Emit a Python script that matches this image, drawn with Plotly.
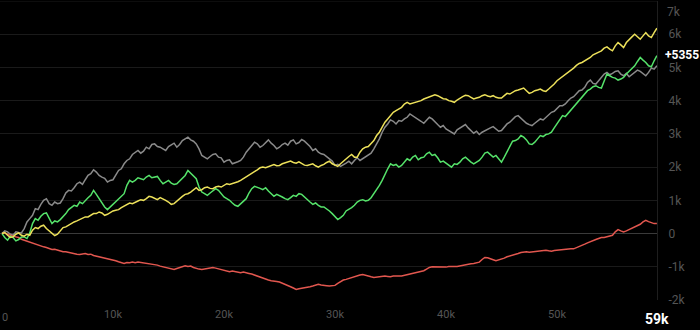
import plotly.graph_objects as go

# x positions in thousands (0 .. 59k, step 0.25k)
x_k = [i * 0.25 for i in range(237)]

gray_k = [0, 0.08, 0.05, -0.02, -0.05, 0.05, 0.03, 0.02, 0.15, 0.35,
          0.45, 0.55, 0.75, 0.72, 0.88, 1.0, 1.05, 0.9, 0.85, 0.95,
          0.9, 0.92, 1.05, 1.22, 1.3, 1.28, 1.38, 1.5, 1.55, 1.48,
          1.62, 1.75, 1.8, 1.92, 1.85, 1.75, 1.7, 1.66, 1.55, 1.6,
          1.62, 1.78, 1.9, 1.95, 2.1, 2.2, 2.25, 2.38, 2.45, 2.5,
          2.42, 2.48, 2.6, 2.55, 2.68, 2.7, 2.62, 2.6, 2.55, 2.5,
          2.62, 2.66, 2.72, 2.6, 2.68, 2.8, 2.85, 2.9, 2.82, 2.78,
          2.7, 2.55, 2.35, 2.3, 2.25, 2.32, 2.38, 2.4, 2.3, 2.28,
          2.15, 2.2, 2.22, 2.1, 2.12, 2.16, 2.2, 2.3, 2.45, 2.55,
          2.62, 2.75, 2.7, 2.6, 2.65, 2.75, 2.82, 2.72, 2.65, 2.55,
          2.6, 2.68, 2.72, 2.66, 2.78, 2.82, 2.7, 2.74, 2.83, 2.78,
          2.7, 2.62, 2.5, 2.55, 2.45, 2.4, 2.38, 2.32, 2.25, 2.18,
          2.05, 2.08, 2.02, 2.06, 2.12, 2.18, 2.1, 2.2, 2.28, 2.2,
          2.25, 2.3, 2.35, 2.42, 2.55, 2.7, 2.85, 3.05, 3.2, 3.3,
          3.42, 3.38, 3.3, 3.4, 3.38, 3.45, 3.5, 3.6, 3.55, 3.5,
          3.45, 3.38, 3.32, 3.4, 3.5, 3.45, 3.35, 3.28, 3.2, 3.25,
          3.15, 3.1, 3.05, 3.0, 3.12, 3.18, 3.22, 3.28, 3.18, 3.1,
          3.02, 3.08, 2.98, 3.05, 3.1, 3.15, 3.18, 3.22, 3.15, 3.08,
          3.1, 3.2, 3.3, 3.35, 3.45, 3.52, 3.55, 3.48, 3.4, 3.32,
          3.28, 3.25, 3.32, 3.4, 3.45, 3.42, 3.5, 3.58, 3.65, 3.68,
          3.78, 3.85, 3.85, 3.9, 4.0, 4.08, 4.12, 4.2, 4.3, 4.32,
          4.4, 4.55, 4.62, 4.52, 4.5, 4.6, 4.7, 4.8, 4.85, 4.78,
          4.82, 4.88, 4.9, 4.8, 4.75, 4.82, 4.72, 4.78, 4.85, 4.92,
          4.88, 4.8, 4.75, 4.85, 4.98, 4.95, 5.05]

green_k = [0, -0.12, -0.2, -0.08, -0.12, -0.22, -0.18, -0.1, -0.1, -0.15,
           0.02, 0.3, 0.45, 0.4, 0.52, 0.6, 0.62, 0.45, 0.3, 0.38,
           0.35, 0.42, 0.5, 0.6, 0.72, 0.78, 0.85, 0.82, 0.95, 0.9,
           1.0, 1.08, 1.15, 1.3, 1.18, 1.05, 0.92, 0.8, 0.72, 0.8,
           0.85, 0.95, 1.02, 1.12, 1.2, 1.45, 1.6, 1.55, 1.6, 1.68,
           1.65, 1.62, 1.7, 1.75, 1.68, 1.7, 1.72, 1.6, 1.5, 1.55,
           1.6, 1.52, 1.48, 1.5, 1.58, 1.66, 1.75, 1.9, 1.82, 1.75,
           1.65, 1.4, 1.25, 1.2, 1.15, 1.22, 1.28, 1.35, 1.3, 1.2,
           1.1, 1.05, 1.0, 0.92, 0.85, 0.82, 0.9, 0.98, 1.05, 1.22,
           1.35, 1.42, 1.4, 1.36, 1.32, 1.38, 1.28, 1.2, 1.12, 1.18,
           1.15, 1.1, 1.05, 1.02, 1.08, 1.15, 1.12, 1.2, 1.18, 1.1,
           1.0, 0.95, 0.88, 0.92, 0.85, 0.8, 0.8, 0.75, 0.68, 0.6,
           0.5, 0.42, 0.48, 0.55, 0.68, 0.72, 0.78, 0.85, 0.95, 1.0,
           1.02, 0.98, 1.0, 1.08, 1.2, 1.3, 1.45, 1.6, 1.8, 1.95,
           2.1, 2.05, 2.08, 2.0, 2.05, 2.15, 2.25, 2.2, 2.3, 2.35,
           2.22, 2.28, 2.3, 2.4, 2.45, 2.35, 2.38, 2.28, 2.15, 2.18,
           2.12, 2.05, 2.0, 2.1, 2.08, 2.15, 2.25, 2.3, 2.22, 2.15,
           2.1, 2.15, 2.2, 2.3, 2.42, 2.45, 2.38, 2.3, 2.35, 2.25,
           2.15, 2.3, 2.45, 2.62, 2.78, 2.8, 2.85, 2.95, 2.9, 2.82,
           2.7, 2.68, 2.75, 2.85, 2.95, 2.92, 2.98, 3.0, 3.05, 3.18,
           3.3, 3.45, 3.55, 3.52, 3.62, 3.7, 3.8, 3.92, 4.0, 4.1,
           4.22, 4.3, 4.35, 4.42, 4.45, 4.4, 4.38, 4.6, 4.8, 4.75,
           4.7, 4.68, 4.62, 4.65, 4.7, 4.8, 4.88, 4.95, 5.05, 5.18,
           5.3, 5.22, 5.15, 5.05, 5.02, 5.2, 5.355]

yellow_k = [0, 0.03, -0.05, -0.12, -0.1, -0.02, 0.02, -0.05, -0.08, -0.02,
            -0.05, 0.1, 0.18, 0.15, 0.22, 0.25, 0.15, 0.08, 0.02, -0.06,
            -0.02, 0.08, 0.18, 0.2, 0.25, 0.32, 0.35, 0.38, 0.42, 0.48,
            0.5, 0.5, 0.55, 0.6, 0.6, 0.65, 0.62, 0.55, 0.58, 0.64,
            0.68, 0.7, 0.72, 0.78, 0.82, 0.88, 0.92, 0.9, 0.95, 0.98,
            1.02, 1.0, 1.05, 1.12, 1.1, 1.05, 1.02, 1.08, 1.05, 1.0,
            0.95, 0.88, 0.9, 0.98, 1.05, 1.12, 1.18, 1.2, 1.25, 1.32,
            1.38, 1.3, 1.32, 1.38, 1.4, 1.36, 1.35, 1.4, 1.42, 1.4,
            1.45, 1.5, 1.48, 1.5, 1.52, 1.56, 1.6, 1.65, 1.7, 1.76,
            1.8, 1.86, 1.92, 1.98, 2.0, 1.98, 2.02, 2.06, 2.08, 2.04,
            2.05, 2.1, 2.12, 2.15, 2.18, 2.14, 2.12, 2.16, 2.1, 2.06,
            2.05, 2.08, 2.1, 2.04, 2.0, 2.05, 2.08, 2.14, 2.18, 2.1,
            2.05, 2.02, 2.1, 2.18, 2.25, 2.32, 2.38, 2.3, 2.3, 2.45,
            2.55, 2.6, 2.62, 2.7, 2.8, 2.95, 3.05, 3.2, 3.35, 3.45,
            3.55, 3.65, 3.7, 3.75, 3.8, 3.9, 3.95, 3.9, 3.92, 3.96,
            3.98, 4.0, 4.05, 4.08, 4.1, 4.14, 4.18, 4.15, 4.1, 4.06,
            4.05, 4.0, 3.98, 3.95, 4.02, 4.08, 4.12, 4.16, 4.15, 4.1,
            4.05, 4.08, 4.1, 4.15, 4.18, 4.14, 4.12, 4.15, 4.1, 4.08,
            4.08, 4.15, 4.22, 4.2, 4.25, 4.3, 4.32, 4.36, 4.38, 4.3,
            4.22, 4.25, 4.3, 4.32, 4.35, 4.3, 4.28, 4.35, 4.42, 4.5,
            4.6, 4.66, 4.72, 4.8, 4.85, 4.92, 4.98, 5.06, 5.12, 5.15,
            5.2, 5.25, 5.3, 5.38, 5.42, 5.45, 5.5, 5.58, 5.62, 5.55,
            5.5, 5.65, 5.75, 5.68, 5.6, 5.75, 5.85, 5.92, 6.0, 5.92,
            5.85, 5.95, 6.05, 5.95, 5.9, 6.05, 6.18]

red_k = [0, 0.02, -0.02, -0.06, -0.08, -0.1, -0.12, -0.17, -0.2, -0.24,
         -0.27, -0.3, -0.32, -0.35, -0.38, -0.4, -0.42, -0.45, -0.48, -0.47,
         -0.5, -0.53, -0.55, -0.55, -0.57, -0.6, -0.6, -0.62, -0.63, -0.61,
         -0.6, -0.63, -0.62, -0.66, -0.68, -0.7, -0.72, -0.73, -0.75, -0.76,
         -0.78, -0.82, -0.85, -0.88, -0.9, -0.87, -0.88, -0.86, -0.88, -0.86,
         -0.87, -0.89, -0.9, -0.91, -0.93, -0.92, -0.95, -0.98, -1.0, -1.02,
         -1.05, -1.07, -1.08, -1.05, -1.03, -1.0, -0.97, -0.99, -0.98, -1.02,
         -1.05, -1.07, -1.08, -1.06, -1.04, -1.02, -1.02, -1.04, -1.06, -1.08,
         -1.1, -1.13, -1.15, -1.13, -1.14, -1.16, -1.18, -1.16, -1.17, -1.2,
         -1.22, -1.25, -1.28, -1.32, -1.36, -1.38, -1.4, -1.42, -1.42, -1.44,
         -1.46, -1.49, -1.52, -1.56, -1.6, -1.64, -1.68, -1.66, -1.65, -1.64,
         -1.62, -1.6, -1.58, -1.55, -1.53, -1.55, -1.55, -1.57, -1.58, -1.57,
         -1.56, -1.5, -1.45, -1.4, -1.38, -1.35, -1.32, -1.3, -1.28, -1.25,
         -1.23, -1.26, -1.28, -1.3, -1.32, -1.31, -1.3, -1.28, -1.28, -1.29,
         -1.3, -1.28, -1.27, -1.28, -1.28, -1.26, -1.25, -1.24, -1.22, -1.2,
         -1.18, -1.15, -1.12, -1.07, -1.02, -1.0, -1.0, -1.01, -1.02, -1.01,
         -1.01, -0.99, -0.98, -0.99, -0.99, -0.97, -0.95, -0.94, -0.93, -0.91,
         -0.9, -0.88, -0.86, -0.78, -0.72, -0.73, -0.75, -0.79, -0.82, -0.8,
         -0.78, -0.74, -0.7, -0.68, -0.65, -0.62, -0.6, -0.57, -0.55, -0.55,
         -0.56, -0.55, -0.55, -0.54, -0.52, -0.51, -0.5, -0.52, -0.53, -0.51,
         -0.5, -0.49, -0.48, -0.46, -0.45, -0.46, -0.46, -0.43, -0.4, -0.36,
         -0.32, -0.28, -0.24, -0.21, -0.18, -0.15, -0.12, -0.12, -0.1, -0.08,
         -0.05, 0.05, 0.12, 0.08, 0.05, 0.08, 0.12, 0.16, 0.2, 0.24,
         0.28, 0.35, 0.4, 0.36, 0.32, 0.3, 0.3]

y_ticks = [-2000, -1000, 0, 1000, 2000, 3000, 4000, 5000, 6000]
y_tick_text = ["-2k", "-1k", "0", "1k", "2k", "3k", "4k", "5k", "6k"]
x_ticks = [10000, 20000, 30000, 40000, 50000]
x_tick_text = ["10k", "20k", "30k", "40k", "50k"]
end_label = "+5355"
end_x_label = "59k"

xs = [v * 1000 for v in x_k]

series = [
    ("gray", gray_k, "#8a8a8a"),
    ("red", red_k, "#e2574f"),
    ("green", green_k, "#55e26a"),
    ("yellow", yellow_k, "#ece05a"),
]

fig = go.Figure()
for name, vals, col in series:
    fig.add_trace(go.Scatter(
        x=xs, y=[v * 1000 for v in vals], mode="lines", name=name,
        line=dict(color=col, width=1.5), hoverinfo="skip"))

tick_font = dict(size=11, color="#555555")

fig.update_layout(
    width=700, height=330,
    margin=dict(l=0, r=43, t=1, b=30),
    paper_bgcolor="#000000", plot_bgcolor="#000000",
    showlegend=False,
    font=dict(family="Roboto, Liberation Sans, sans-serif", color="#5a5a5a", size=11),
    xaxis=dict(range=[-180, 59010], tickvals=x_ticks, ticktext=x_tick_text,
               showgrid=False, zeroline=False, showline=False,
               tickfont=tick_font, ticks="", ticklabelstandoff=6),
    yaxis=dict(range=[-2000, 7000], side="right", tickvals=y_ticks, ticktext=y_tick_text,
               showgrid=True, gridcolor="#1a1a1a", gridwidth=1,
               zeroline=True, zerolinecolor="#3a3a3a", zerolinewidth=1,
               showline=True, linecolor="#1e1e1e", linewidth=1,
               tickfont=dict(size=12, color="#555555"), ticks="", ticklabelstandoff=8),
)

# top gridline and its label (kept inside the frame)
fig.add_shape(type="line", xref="paper", x0=0, x1=1, yref="y", y0=7000, y1=7000,
              line=dict(color="#1a1a1a", width=1))
fig.add_annotation(x=1, xref="paper", y=7000, yref="y", text="7k", showarrow=False,
                   xanchor="left", yanchor="middle", xshift=8, yshift=-11,
                   font=dict(size=12, color="#555555"))
# first x label at the left edge
fig.add_annotation(x=-180, xref="x", y=0, yref="paper", text="0", showarrow=False,
                   xanchor="left", yanchor="top", yshift=-9, font=tick_font)
# end value label for the green series
fig.add_annotation(x=59000, xref="x", y=green_k[-1] * 1000, yref="y", text="<b>" + end_label + "</b>",
                   showarrow=False, xanchor="left", yanchor="middle", xshift=6, yshift=1,
                   font=dict(size=12, color="#ffffff"))
# highlighted last x label
fig.add_annotation(x=59000, xref="x", y=0, yref="paper", text="<b>" + end_x_label + "</b>",
                   showarrow=False, xanchor="center", yanchor="top", yshift=-9,
                   font=dict(size=14, color="#ffffff"))

fig.write_html("out.html")
